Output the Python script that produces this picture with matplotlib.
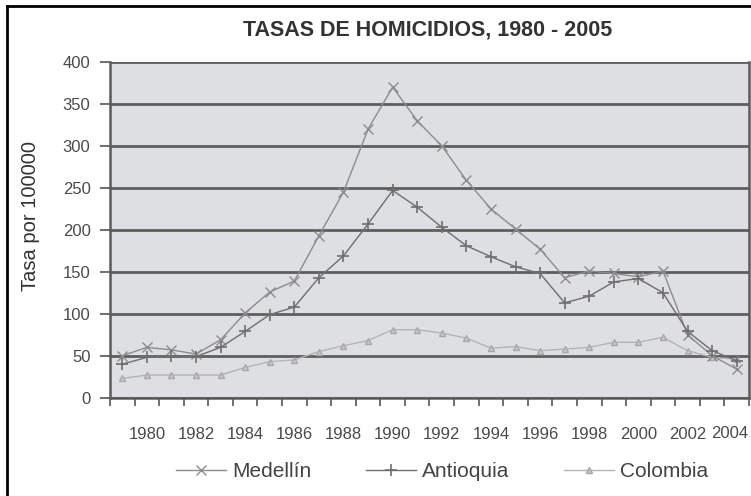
import matplotlib
matplotlib.use('Agg')
import matplotlib.pyplot as plt
from matplotlib.lines import Line2D

plt.rcParams['font.family'] = ['Liberation Sans', 'DejaVu Sans']

years = list(range(1979, 2005))
medellin = [50, 60, 57, 52, 69, 101, 126, 139, 193, 245, 320, 370, 330, 300, 259,
            225, 201, 177, 143, 151, 148, 144, 151, 75, 50, 34]
antioquia = [40, 48, 50, 49, 60, 79, 99, 108, 143, 169, 207, 247, 227, 203, 181,
             168, 156, 148, 113, 121, 138, 142, 125, 79, 56, 44]
colombia = [23, 27, 27, 27, 27, 36, 43, 45, 55, 62, 68, 81, 81, 77, 71,
            59, 61, 56, 58, 60, 66, 66, 72, 56, 48, 46]
label_years = list(range(1980, 2005, 2))
yticks = list(range(0, 401, 50))

fig = plt.figure(figsize=(7.51, 4.96), dpi=100)
ax = fig.add_axes([110 / 751, 1 - 397.7 / 496, 639 / 751, 335.7 / 496])
ax.set_facecolor('#dedfe3')

ax.plot(years, medellin, color='#8c8c8c', lw=1.0, marker='x', ms=7, mew=1.0,
        label='Medellín', zorder=4)
ax.plot(years, antioquia, color='#6e6e6e', lw=1.0, marker='+', ms=8, mew=1.2,
        label='Antioquia', zorder=5)
ax.plot(years, colombia, color='#b4b4b4', lw=1.0, marker='^', ms=5,
        mfc='#c8c8c8', mec='#a8a8a8', label='Colombia', zorder=3)

ax.set_xlim(years[0] - 0.5, years[-1] + 0.5)
ax.set_ylim(0, 400)
ax.set_yticks(yticks)
ax.set_yticklabels([str(v) for v in yticks], fontsize=12, color='#4a4a4a')
ax.yaxis.grid(True, color='#5e5e5e', lw=2.0)
ax.set_axisbelow(True)

# category boundaries carry the tick marks, labels sit at category centres
ax.set_xticks([y - 0.5 for y in years] + [years[-1] + 0.5])
ax.set_xticklabels([])
ax.set_xticks(label_years[:-1], minor=True)
ax.set_xticklabels([str(y) for y in label_years[:-1]], minor=True,
                   fontsize=12, color='#4a4a4a')
# last label sits against the right edge, as in the original
ax.text(label_years[-1] + 0.47, -0.108, str(label_years[-1]),
        transform=ax.get_xaxis_transform(), ha='right', va='center',
        fontsize=12, color='#4a4a4a')
ax.tick_params(axis='x', which='major', length=6, width=1.2, color='#555555')
ax.tick_params(axis='x', which='minor', length=0, pad=21)
ax.tick_params(axis='y', length=7, width=1.2, color='#555555', pad=7)

for side in ['left', 'bottom', 'right']:
    ax.spines[side].set_color('#5a5a5a')
    ax.spines[side].set_linewidth(1.8)
ax.spines['top'].set_visible(False)

ax.set_ylabel('Tasa por 100000', fontsize=14.5, color='#333333')
ax.yaxis.set_label_coords(-0.11, 0.54)
fig.text(428 / 751, 1 - 30 / 496, 'TASAS DE HOMICIDIOS, 1980 - 2005',
         ha='center', va='center', fontsize=15.5, fontweight='bold', color='#333333')

ax.legend(loc='center', bbox_to_anchor=(0.52, -0.22), ncol=3, frameon=False,
          fontsize=15, handlelength=2.4, handletextpad=0.3, columnspacing=2.6,
          labelcolor='#444444')

# outer frame (left and top edges visible)
fig.add_artist(Line2D([7 / 751, 7 / 751], [0, 1 - 6 / 496], color='black', lw=2))
fig.add_artist(Line2D([7 / 751, 1], [1 - 6 / 496, 1 - 6 / 496], color='black', lw=2))

fig.savefig('out.png', dpi=100)
